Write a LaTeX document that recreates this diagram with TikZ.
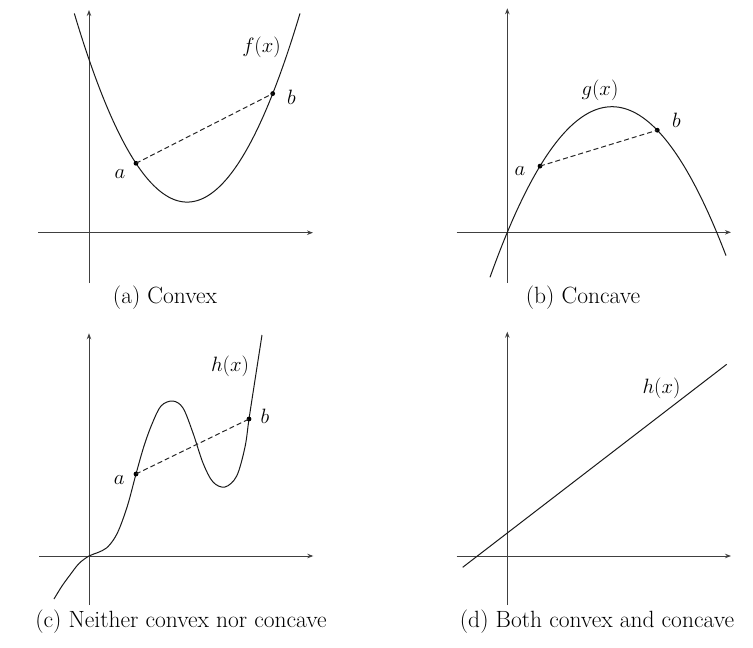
\documentclass[tikz,border=0pt]{standalone}
\usetikzlibrary{arrows.meta}
\tikzset{
  axis/.style={draw=black!75, line width=0.95pt, -{Stealth[length=6pt,width=4.5pt]}},
  curve/.style={draw=black!90, line width=1pt},
  chord/.style={draw=black!85, line width=1pt, dashed, dash pattern=on 5pt off 3pt},
  dotpt/.style={circle, fill=black, inner sep=0pt, minimum size=4.8pt},
  lbl/.style={font=\fontsize{20}{24}\selectfont, inner sep=1pt},
  capt/.style={font=\fontsize{23.5}{27}\selectfont, inner sep=0pt}
}
\begin{document}
\begin{tikzpicture}[x=1pt,y=-1pt]
\useasboundingbox (0,0) rectangle (753,648);
% ---------- (a) Convex ----------
\coordinate (aO1) at (38,232.7); \coordinate (aX1) at (313,232.7);
\coordinate (aO2) at (89,283); \coordinate (aY2) at (89,10);
\draw[axis] (aO1) -- (aX1);
\draw[axis] (aO2) -- (aY2);
\draw[curve] plot[domain=74.3:300, samples=80, smooth] ({\x},{202.1-0.014823*(\x-187.15)^2});
\node[dotpt] (pa1) at (136,163.3) {};
\node[dotpt] (pb1) at (272.7,93.6) {};
\draw[chord] (pa1.center) -- (pb1.center);
\node[lbl] (la1) at (120,174) {$a$};
\node[lbl] (lb1) at (291.5,97) {$b$};
\node[lbl] (lf1) at (261.5,47) {$f(x)$};
\node[capt] (c1) at (165,298) {(a) Convex};
% ---------- (b) Concave ----------
\coordinate (bO1) at (456.7,232.3); \coordinate (bX1) at (731,232.3);
\coordinate (bO2) at (507.3,282.7); \coordinate (bY2) at (507.3,8.3);
\draw[axis] (bO1) -- (bX1);
\draw[axis] (bO2) -- (bY2);
\draw[curve] plot[domain=490:726, samples=80, smooth] ({\x},{106.7+0.011458*(\x-612)^2});
\node[dotpt] (pa2) at (540,166.1) {};
\node[dotpt] (pb2) at (657.3,130.2) {};
\draw[chord] (pa2.center) -- (pb2.center);
\node[lbl] (la2) at (520,171.5) {$a$};
\node[lbl] (lb2) at (676.5,120) {$b$};
\node[lbl] (lg2) at (600,90.5) {$g(x)$};
\node[capt] (c2) at (583,298) {(b) Concave};
% ---------- (c) Neither ----------
\coordinate (cO1) at (39.3,556); \coordinate (cX1) at (313.3,556);
\coordinate (cO2) at (89,605); \coordinate (cY2) at (89,333.3);
\draw[axis] (cO1) -- (cX1);
\draw[axis] (cO2) -- (cY2);
\draw[curve] plot[smooth, tension=0.55] coordinates {
 (54,599) (62,586) (70,575) (79,563.5) (89,556) (98,552.5) (106.5,548)
 (114,539) (120,527) (128,504) (136,474) (144,446) (152,424) (161,406)
 (172.7,401) (183,408) (193,433) (203,463) (213,482) (225,487)
 (236.7,476) (245,447) (249,419) (255,380) (262,335)};
\node[dotpt] (pa3) at (136,474) {};
\node[dotpt] (pb3) at (249,419) {};
\draw[chord] (pa3.center) -- (pb3.center);
\node[lbl] (la3) at (119.3,480) {$a$};
\node[lbl] (lb3) at (265,416.5) {$b$};
\node[lbl] (lh3) at (230,366.5) {$h(x)$};
\node[capt] (c3) at (181,622) {(c) Neither convex nor concave};
% ---------- (d) Both ----------
\coordinate (dO1) at (456.7,556); \coordinate (dX1) at (731,556);
\coordinate (dO2) at (507.3,605); \coordinate (dY2) at (507.3,331.7);
\draw[axis] (dO1) -- (dX1);
\draw[axis] (dO2) -- (dY2);
\coordinate (l1) at (462.7,567.3); \coordinate (l2) at (726.7,364.3);
\draw[curve] (l1) -- (l2);
\node[lbl] (lh4) at (661.5,388.5) {$h(x)$};
\node[capt] (c4) at (597,622) {(d) Both convex and concave};
\end{tikzpicture}
\end{document}
